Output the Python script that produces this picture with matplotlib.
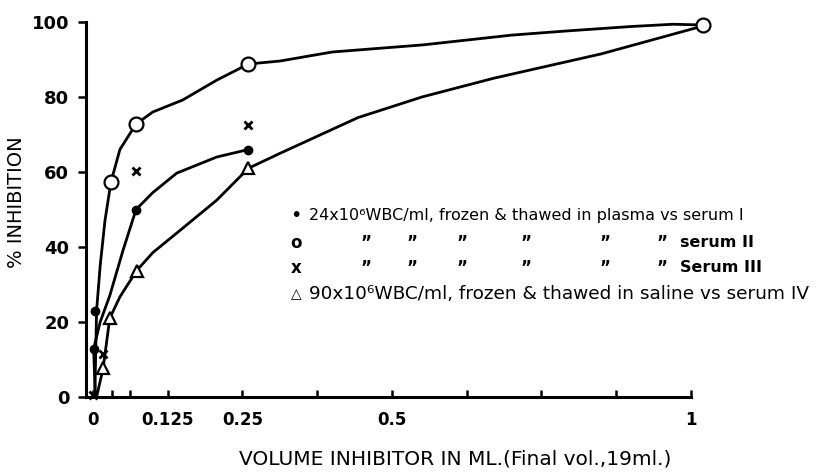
import numpy as np
import matplotlib
matplotlib.use("Agg")
import matplotlib.pyplot as plt

# marker values (volume in ml, % inhibition)
s1_x = [0.001, 0.003, 0.072, 0.26]
s1_y = [12.8, 23.0, 50.0, 66.0]
s2_x = [0.030, 0.072, 0.26, 1.02]
s2_y = [57.3, 72.8, 88.8, 99.2]
s3_x = [0.0, 0.017, 0.072, 0.26]
s3_y = [0.5, 11.5, 60.3, 72.5]
s4_x = [0.017, 0.028, 0.073, 0.26]
s4_y = [7.7, 21.0, 33.7, 61.0]

# hand drawn curves
c1_x = [0.004, 0.001, 0.012, 0.028, 0.05, 0.072, 0.10, 0.14, 0.207, 0.26]
c1_y = [0.0, 12.8, 20.0, 27.0, 39.0, 50.0, 54.5, 59.7, 64.0, 66.0]
c2_x = [0.003, 0.006, 0.012, 0.020, 0.030, 0.045, 0.072, 0.10, 0.15, 0.207, 0.26,
        0.313, 0.40, 0.552, 0.70, 0.791, 0.90, 0.97, 1.02]
c2_y = [0.0, 23.0, 35.0, 47.0, 57.3, 66.0, 72.8, 76.0, 79.2, 84.5, 88.8,
        89.6, 92.0, 93.9, 96.5, 97.6, 98.8, 99.4, 99.2]
c4_x = [0.006, 0.017, 0.028, 0.045, 0.073, 0.10, 0.14, 0.207, 0.26, 0.313,
        0.443, 0.55, 0.67, 0.85, 1.01]
c4_y = [0.0, 7.7, 21.0, 26.7, 33.7, 38.5, 43.7, 52.5, 61.0, 65.0,
        74.5, 80.0, 85.0, 91.5, 98.5]

xticks = [0, 0.125, 0.25, 0.5, 1]
xticklabels = ["0", "0.125", "0.25", "0.5", "1"]
minor_xticks = [0.03125, 0.0625, 0.375, 0.625, 0.75, 0.875]
yticks = [0, 20, 40, 60, 80, 100]

fig = plt.figure(figsize=(8.36, 4.75), dpi=100)
ax = fig.add_axes([86 / 836, 1 - 397 / 475, (691 - 86) / 836, 375 / 475])

lw = 2.0
ax.plot(c1_x, c1_y, color="black", lw=lw, solid_capstyle="round")
ax.plot(c2_x, c2_y, color="black", lw=lw, solid_capstyle="round", clip_on=False)
ax.plot(c4_x, c4_y, color="black", lw=lw, solid_capstyle="round", clip_on=False)

ax.plot(s1_x, s1_y, "o", color="black", ms=6, clip_on=False, zorder=5)
ax.plot(s2_x, s2_y, "o", mfc="white", mec="black", mew=1.6, ms=10, clip_on=False, zorder=5)
ax.plot(s3_x, s3_y, "x", color="black", mew=2.0, ms=6, clip_on=False, zorder=5)
ax.plot(s4_x, s4_y, "^", mfc="white", mec="black", mew=1.6, ms=9, clip_on=False, zorder=5)

ax.set_xlim(-0.0117, 1.0)
ax.set_ylim(0, 100)
ax.spines["top"].set_visible(False)
ax.spines["right"].set_visible(False)
for s in ["left", "bottom"]:
    ax.spines[s].set_linewidth(2.2)

ax.set_xticks(xticks)
ax.set_xticklabels(xticklabels, fontsize=12, fontweight="bold")
ax.set_xticks(minor_xticks, minor=True)
ax.tick_params(axis="x", which="both", direction="in", length=5, width=1.8, pad=10)
ax.set_yticks(yticks)
ax.set_yticklabels([str(v) for v in yticks], fontsize=13, fontweight="bold")
ax.tick_params(axis="y", direction="out", length=6, width=1.8, pad=6)

ax.set_ylabel("% INHIBITION", fontsize=14)
ax.yaxis.set_label_coords(-60 / 605, 0.52)
ax.set_xlabel("VOLUME INHIBITOR IN ML.(Final vol.,19ml.)", fontsize=14.5)
ax.xaxis.set_label_coords(0.61, -0.14)

# legend, lettered by hand in the original
fs = 11.5
fig.text(296 / 836, 1 - 215 / 475, "\u2022", fontsize=14, va="center", ha="center")
fig.text(309 / 836, 1 - 215 / 475, "24x10\u2076WBC/ml, frozen & thawed in plasma vs serum I",
         fontsize=fs, va="center")
ditto_cols = [366, 412, 462, 526, 605, 662]
fig.text(296 / 836, 1 - 243 / 475, "o", fontsize=12, fontweight="bold", va="center", ha="center")
fig.text(296 / 836, 1 - 268 / 475, "x", fontsize=12, fontweight="bold", va="center", ha="center")
for px in ditto_cols:
    fig.text(px / 836, 1 - 243 / 475, "\u201d", fontsize=12, fontweight="bold", va="center", ha="center")
    fig.text(px / 836, 1 - 268 / 475, "\u201d", fontsize=12, fontweight="bold", va="center", ha="center")
fig.text(680 / 836, 1 - 243 / 475, "serum II", fontsize=fs, fontweight="bold", va="center")
fig.text(680 / 836, 1 - 268 / 475, "Serum III", fontsize=fs, fontweight="bold", va="center")
fig.text(296 / 836, 1 - 294 / 475, "\u25b3", fontsize=10, va="center", ha="center")
fig.text(309 / 836, 1 - 294 / 475, "90x10\u2076WBC/ml, frozen & thawed in saline vs serum IV",
         fontsize=13.3, va="center")

fig.savefig("out.png", dpi=100)
